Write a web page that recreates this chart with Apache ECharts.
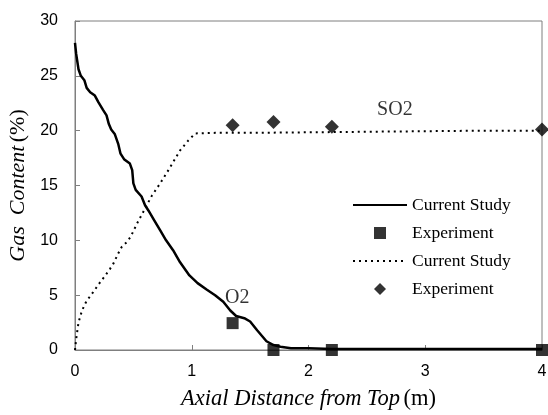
<!DOCTYPE html>
<html><head><meta charset="utf-8">
<script src="https://cdn.jsdelivr.net/npm/echarts@6/dist/echarts.min.js"></script>
<style>html,body{margin:0;padding:0;background:#fff}#c{width:548px;height:415px}</style>
</head><body><div id="c"></div>
<script>
const xTicks = [0, 1, 2, 3, 4];
const yTicks = [0, 5, 10, 15, 20, 25, 30];
const o2Model = [[0,28.0],[0.01,27.0],[0.03,25.6],[0.05,25.0],[0.08,24.6],[0.10,23.9],[0.13,23.5],[0.17,23.2],[0.20,22.6],[0.24,21.9],[0.27,21.4],[0.29,20.6],[0.31,20.1],[0.34,19.7],[0.37,18.8],[0.39,17.9],[0.42,17.4],[0.47,17.0],[0.49,16.4],[0.50,15.2],[0.52,14.6],[0.57,14.0],[0.60,13.2],[0.63,12.7],[0.68,11.8],[0.73,10.9],[0.78,10.0],[0.84,9.1],[0.90,8.0],[0.98,6.8],[1.05,6.1],[1.13,5.5],[1.20,5.0],[1.27,4.4],[1.33,3.6],[1.38,3.1],[1.45,2.9],[1.50,2.6],[1.56,1.8],[1.60,1.3],[1.64,0.8],[1.70,0.45],[1.76,0.3],[1.85,0.15],[2.0,0.15],[2.2,0.1],[2.5,0.1],[3.0,0.1],[4.0,0.1]];
const o2Exp = [[1.35,2.45],[1.70,0],[2.20,0],[4.00,0]];
const so2Model = [[0,0],[0.01,1.0],[0.03,2.5],[0.06,3.6],[0.10,4.5],[0.13,4.9],[0.17,5.5],[0.21,6.1],[0.26,6.8],[0.30,7.4],[0.33,7.9],[0.37,8.8],[0.40,9.4],[0.45,9.9],[0.48,10.4],[0.53,11.5],[0.58,12.5],[0.61,13.1],[0.66,14.1],[0.73,15.2],[0.80,16.4],[0.90,18.2],[0.97,19.1],[1.03,19.75],[1.2,19.8],[1.5,19.8],[2.0,19.85],[2.5,19.9],[3.0,19.95],[3.5,20.0],[4.0,20.0]];
const so2Exp = [[1.35,20.5],[1.70,20.8],[2.20,20.35],[4.00,20.1]];
const annotations = [{name:'SO2', value:[2.74,21.9]},{name:'O2', value:[1.39,4.75]}];
const legendNames = {a:'Current Study', b:'Experiment', c:'Current Study', d:'Experiment'};

const axisGray = '#7f7f7f';
const chart = echarts.init(document.getElementById('c'));
chart.setOption({
  animation: false,
  backgroundColor: '#fff',
  grid: {left: 75, right: 6, top: 21, bottom: 65, outerBoundsMode: 'none', containLabel: false, show: true, borderColor: axisGray, borderWidth: 1, backgroundColor: 'transparent'},
  xAxis: {
    type: 'value', min: xTicks[0], max: xTicks[xTicks.length-1], interval: 1,
    name: '{i|Axial Distance from Top} {r|(m)}', nameLocation: 'middle', nameGap: 38,
    nameTextStyle: {rich: {i: {fontFamily: 'Liberation Serif', fontStyle: 'italic', fontSize: 22.5, color: '#000'}, r: {fontFamily: 'Liberation Serif', fontSize: 22.5, color: '#000'}}},
    axisLine: {lineStyle: {color: axisGray, width: 1}},
    axisTick: {inside: true, length: 5, lineStyle: {color: axisGray}},
    axisLabel: {margin: 14, fontFamily: 'Liberation Sans', fontSize: 16, color: '#000'},
    splitLine: {show: false}
  },
  yAxis: {
    type: 'value', min: yTicks[0], max: yTicks[yTicks.length-1], interval: 5,
    name: '{i|Gas  Content} {r|(%)}', nameLocation: 'middle', nameGap: 43, nameRotate: 90,
    nameTextStyle: {rich: {i: {fontFamily: 'Liberation Serif', fontStyle: 'italic', fontSize: 22, color: '#000'}, r: {fontFamily: 'Liberation Serif', fontSize: 22, color: '#000'}}},
    axisLine: {show: true, lineStyle: {color: axisGray, width: 1}},
    axisTick: {show: true, inside: true, length: 5, lineStyle: {color: axisGray}},
    axisLabel: {margin: 17, fontFamily: 'Liberation Sans', fontSize: 16, color: '#000'},
    splitLine: {show: false}
  },
  legend: {
    orient: 'vertical', left: 347, top: 191, itemWidth: 54, itemHeight: 12, itemGap: 10,
    textStyle: {fontFamily: 'Liberation Serif', fontSize: 17.5, color: '#000'},
    formatter: n => legendNames[n],
    data: [
      {name: 'a', itemStyle: {opacity: 0}},
      {name: 'b', icon: 'path://M0,0 L1,0 L1,1 L0,1 Z'},
      {name: 'c', itemStyle: {opacity: 0}},
      {name: 'd', icon: 'path://M1,0 L2,1 L1,2 L0,1 Z'}
    ]
  },
  series: [
    {name: 'a', type: 'line', data: o2Model, symbol: 'none', lineStyle: {color: '#000', width: 2.5}, itemStyle: {color: '#000'}, z: 3},
    {name: 'b', type: 'scatter', data: o2Exp, symbol: 'rect', symbolSize: 12, itemStyle: {color: '#000'}, z: 4},
    {name: 'c', type: 'line', data: so2Model, symbol: 'none', lineStyle: {color: '#000', width: 2, type: [2, 4]}, itemStyle: {color: '#000'}, z: 3},
    {name: 'd', type: 'scatter', data: so2Exp, symbol: 'diamond', symbolSize: 14, itemStyle: {color: '#000'}, z: 4},
    {name: 'ann', type: 'scatter', data: annotations, symbolSize: 0, silent: true,
     label: {show: true, position: 'inside', formatter: p => p.name, fontFamily: 'Liberation Serif', fontSize: 20, color: '#000'}}
  ]
});
</script></body></html>
